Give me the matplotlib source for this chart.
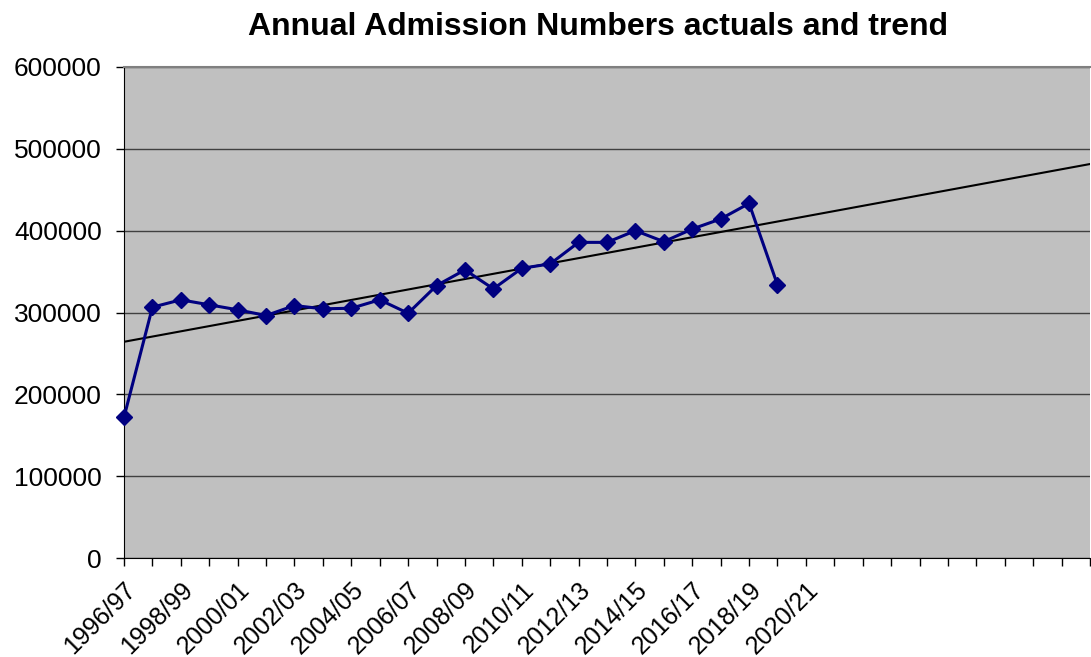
import numpy as np
import matplotlib
matplotlib.use("Agg")
import matplotlib.pyplot as plt

# categories shown on the axis (labels only every second year, blanks after 2020/21)
years = [f"{y}/{(y + 1) % 100:02d}" for y in range(1996, 2031)]
tick_labels = [lab if (i % 2 == 0 and i <= 24) else "" for i, lab in enumerate(years)]

# annual admissions 1996/97 .. 2019/20
admissions = [172000, 306500, 315500, 309400, 303300, 296300, 308500, 304500,
              305200, 315500, 299100, 332900, 352100, 328900, 354000, 359400,
              385700, 385700, 400000, 386600, 402000, 414300, 433300, 333800]

NAVY = "#000080"
PLOT_BG = "#C0C0C0"
GRID = "#404040"

plt.rcParams["font.family"] = ["Liberation Sans", "DejaVu Sans"]

fig = plt.figure(figsize=(10.91, 6.57), dpi=100)
ax = fig.add_axes([124 / 1091, (657 - 558) / 657, (1090 - 124) / 1091, (558 - 67) / 657])
ax.set_facecolor(PLOT_BG)

x_data = np.arange(len(admissions))
ax.plot(x_data, admissions, color=NAVY, lw=2.2, marker="D", ms=8.5,
        mfc=NAVY, mec=NAVY, zorder=4, clip_on=False)

# linear trend (least squares), extended to the end of the category axis
slope, intercept = np.polyfit(x_data, admissions, 1)
x_trend = np.array([0, len(years) - 1])
ax.plot(x_trend, intercept + slope * x_trend, color="black", lw=1.5, zorder=3)

ax.set_xlim(0, len(years) - 1)
ax.set_ylim(0, 600000)
ax.set_yticks(np.arange(0, 600001, 100000))
ax.yaxis.grid(True, color=GRID, lw=1.0)
ax.set_axisbelow(True)

ax.set_xticks(np.arange(len(years)))
ax.set_xticklabels(tick_labels, rotation=45, ha="right", rotation_mode="anchor",
                   fontsize=18)
ax.tick_params(axis="y", labelsize=19, length=6, width=1, pad=10)
ax.tick_params(axis="x", length=6, width=1, pad=8)

ax.spines["top"].set_color("#808080")
ax.spines["top"].set_linewidth(1.5)
ax.spines["right"].set_visible(False)
ax.spines["left"].set_color("black")
ax.spines["bottom"].set_color("black")

fig.text(598 / 1091, 1 - 27 / 657, "Annual Admission Numbers actuals and trend",
         ha="center", va="center", fontsize=23, fontweight="bold")

fig.savefig("out.png", dpi=100)
